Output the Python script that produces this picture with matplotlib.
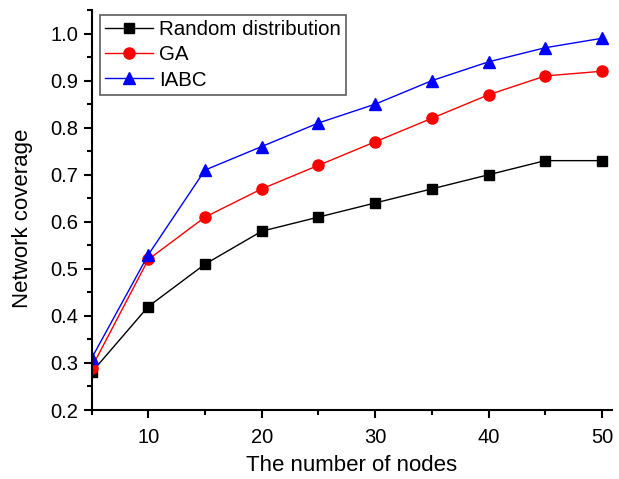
import matplotlib.pyplot as plt
from matplotlib.ticker import MultipleLocator

plt.rcParams['font.family'] = ['Liberation Sans', 'DejaVu Sans']

nodes = [5, 10, 15, 20, 25, 30, 35, 40, 45, 50]
random_cov = [0.28, 0.42, 0.51, 0.58, 0.61, 0.64, 0.67, 0.70, 0.73, 0.73]
ga_cov = [0.29, 0.52, 0.61, 0.67, 0.72, 0.77, 0.82, 0.87, 0.91, 0.92]
iabc_cov = [0.31, 0.53, 0.71, 0.76, 0.81, 0.85, 0.90, 0.94, 0.97, 0.99]

fig = plt.figure(figsize=(6.19, 4.79), dpi=100)
ax = fig.add_axes([0.148, 0.144, 0.841, 0.835])

ax.plot(nodes, random_cov, color='black', marker='s', markersize=7, lw=1, label='Random distribution')
ax.plot(nodes, ga_cov, color='red', marker='o', markersize=8, lw=1, label='GA')
ax.plot(nodes, iabc_cov, color='blue', marker='^', markersize=8, lw=1, label='IABC')

ax.set_xlim(5, 50.9)
ax.set_ylim(0.2, 1.05)
ax.xaxis.set_minor_locator(MultipleLocator(5))
ax.yaxis.set_major_locator(MultipleLocator(0.1))
ax.yaxis.set_minor_locator(MultipleLocator(0.05))
ax.set_xticks([10, 20, 30, 40, 50])
ax.yaxis.set_major_formatter(plt.FuncFormatter(lambda v, p: f'{v:.1f}'))

for s in ['top', 'right']:
    ax.spines[s].set_visible(False)
for s in ['left', 'bottom']:
    ax.spines[s].set_linewidth(1.5)
ax.tick_params(which='major', direction='out', length=6, width=1.5, labelsize=14.5)
ax.tick_params(which='minor', direction='out', length=3.5, width=1.5)
ax.tick_params(axis='x', pad=7)

ax.set_xlabel('The number of nodes', fontsize=16, labelpad=6)
ax.set_ylabel('Network coverage', fontsize=16)
ax.yaxis.set_label_coords(-0.113, 0.48)

leg = ax.legend(loc='upper left', fontsize=14.8, frameon=True, fancybox=False,
                edgecolor='#333333', handlelength=2.3, borderpad=0.25,
                labelspacing=0.3, handletextpad=0.3, bbox_to_anchor=(-0.003, 1.013))
leg.get_frame().set_linewidth(1.2)

fig.savefig('out.png', dpi=100)
